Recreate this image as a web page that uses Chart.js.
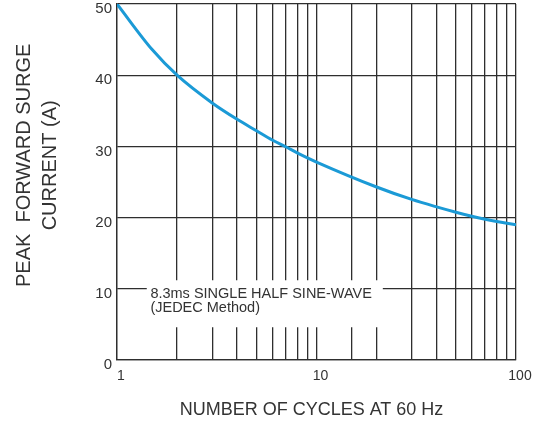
<!DOCTYPE html>
<html>
<head>
<meta charset="utf-8">
<script src="https://cdn.jsdelivr.net/npm/chart.js@4/dist/chart.umd.min.js"></script>
<style>
  html, body { margin: 0; padding: 0; background: #ffffff; }
  #wrap { width: 538px; height: 423px; }
</style>
</head>
<body>
<div id="wrap"><canvas id="c" width="538" height="423"></canvas></div>
<script>
// ---- Data ----
const cycles = [1, 1.5, 2, 3, 4, 5, 6, 7, 8, 9, 10, 20, 30, 40, 50, 60, 70, 80, 90, 100];
const surgeCurrent = [50, 43.6, 40, 36.1, 33.8, 32.2, 30.9, 29.95, 29.1, 28.4, 27.8, 24.3, 22.55, 21.5, 20.75, 20.2, 19.78, 19.45, 19.2, 19.0];
const xTickLabels = [1, 10, 100];
const yTickValues = [0, 10, 20, 30, 40, 50];
const yTitleLines = ['      PEAK  FORWARD SURGE', '      CURRENT (A)'];
const xTitleText = 'NUMBER OF CYCLES AT 60 Hz  ';
const noteLines = ['8.3ms SINGLE HALF SINE-WAVE', '(JEDEC Method)'];

// annotation placement in data space
const noteBox = { xFrom: 1.41, xTo: 21.5, yFrom: 4.6, yTo: 11.2, textX: 1.47, line1Y: 9.2, line2Y: 7.25 };

const ink = '#333333';
const gridInk = '#2e2e2e';

const notePlugin = {
  id: 'notePlugin',
  beforeDatasetsDraw(chart) {
    const { ctx, scales: { x, y } } = chart;
    const x0 = x.getPixelForValue(noteBox.xFrom);
    const x1 = x.getPixelForValue(noteBox.xTo);
    const y0 = y.getPixelForValue(noteBox.yTo);
    const y1 = y.getPixelForValue(noteBox.yFrom);
    ctx.save();
    ctx.fillStyle = '#ffffff';
    ctx.fillRect(x0, y0, x1 - x0, y1 - y0);
    ctx.fillStyle = ink;
    ctx.font = '14.5px "Liberation Sans", Arial, sans-serif';
    ctx.textBaseline = 'middle';
    ctx.textAlign = 'left';
    const tx = x.getPixelForValue(noteBox.textX);
    ctx.fillText(noteLines[0], tx, y.getPixelForValue(noteBox.line1Y));
    ctx.fillText(noteLines[1], tx, y.getPixelForValue(noteBox.line2Y));
    ctx.restore();
  }
};

new Chart(document.getElementById('c'), {
  type: 'line',
  data: {
    datasets: [{
      data: cycles.map((c, i) => ({ x: c, y: surgeCurrent[i] })),
      borderColor: '#1b9ad6',
      borderWidth: 3,
      pointRadius: 0,
      cubicInterpolationMode: 'monotone',
      fill: false
    }]
  },
  options: {
    responsive: false,
    animation: false,
    devicePixelRatio: 1,
    layout: { padding: { left: 0, right: 22, top: 4, bottom: 0 } },
    plugins: { legend: { display: false }, tooltip: { enabled: false } },
    scales: {
      x: {
        type: 'logarithmic',
        min: 1,
        max: 100,
        afterFit(s) { s.height = 63; s.paddingLeft = 0; s.paddingRight = 0; },
        border: { display: true, color: gridInk, width: 1.3 },
        grid: { color: gridInk, lineWidth: 1.3, drawTicks: false },
        ticks: {
          autoSkip: false,
          maxRotation: 0,
          minRotation: 0,
          padding: 8,
          labelOffset: 4,
          color: ink,
          font: { family: '"Liberation Sans", Arial, sans-serif', size: 14 },
          callback: (v) => xTickLabels.includes(Number(v)) ? String(v) : ''
        },
        title: {
          display: true,
          text: xTitleText,
          color: ink,
          font: { family: '"Liberation Sans", Arial, sans-serif', size: 18, lineHeight: 1.2 },
          padding: { top: 0, bottom: 2 }
        }
      },
      y: {
        type: 'linear',
        min: 0,
        max: 50,
        afterFit(s) { s.width = 117; s.paddingTop = 0; s.paddingBottom = 0; },
        afterBuildTicks(s) { s.ticks = yTickValues.map(v => ({ value: v })); },
        border: { display: true, color: gridInk, width: 1.3 },
        grid: { color: gridInk, lineWidth: 1.3, drawTicks: false },
        ticks: {
          padding: 5,
          labelOffset: 5,
          color: ink,
          font: { family: '"Liberation Sans", Arial, sans-serif', size: 15 }
        },
        title: {
          display: true,
          text: yTitleLines,
          color: ink,
          font: { family: '"Liberation Sans", Arial, sans-serif', size: 20, lineHeight: 1.3 },
          padding: { top: 11, bottom: 0 }
        }
      }
    }
  },
  plugins: [notePlugin]
});
</script>
</body>
</html>
